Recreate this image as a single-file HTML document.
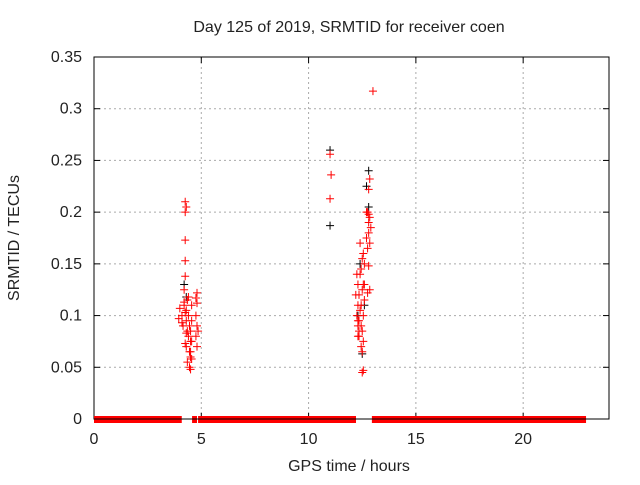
<!DOCTYPE html>
<html><head><meta charset="utf-8"><style>
body{margin:0;background:#fff}
svg text{font-family:"Liberation Sans",sans-serif;font-size:16px;fill:#222}
</style></head><body>
<svg id="c" width="640" height="480"></svg>
<script>
const xTicks=[0,5,10,15,20];
const yTicks=[0,0.05,0.1,0.15,0.2,0.25,0.3,0.35];
const yLabels=["0","0.05","0.1","0.15","0.2","0.25","0.3","0.35"];
const bandStarts=[0,4.57,4.85,12.95];
const bandEnds=[4.09,4.80,12.21,22.93];
const redX=[4.25,4.3,4.25,4.25,4.25,4.25,4.2,4.4,4.35,4.2,4.3,4.4,4.3,4.45,4.35,4.4,4.5,4.3,4.45,4.5,4.35,4.45,4.5,
4.0,3.95,4.1,4.15,4.2,4.25,4.1,4.3,4.25,4.55,4.55,4.5,4.55,4.5,4.55,4.8,4.75,4.8,4.75,4.8,4.85,4.75,4.8,
11.0,11.05,11.0,13.0,
12.85,12.8,12.75,12.85,12.8,12.9,12.8,12.7,12.85,12.75,12.6,12.8,12.6,12.85,12.75,12.7,12.8,
12.4,12.55,12.5,12.45,12.4,12.55,12.5,12.35,12.6,12.45,12.4,12.55,12.3,12.45,12.5,12.35,12.55,12.45,12.5,12.55,12.5,
12.25,12.3,12.2,12.3,12.25,12.35,12.3,12.35,12.3];
const redY=[0.21,0.205,0.2,0.173,0.153,0.138,0.125,0.118,0.115,0.11,0.105,0.1,0.095,0.09,0.085,0.08,0.075,0.07,0.065,0.06,0.055,0.05,0.048,
0.107,0.097,0.1,0.09,0.113,0.103,0.093,0.083,0.073,0.11,0.095,0.085,0.075,0.065,0.058,0.122,0.117,0.112,0.1,0.09,0.085,0.08,0.07,
0.256,0.236,0.213,0.317,
0.232,0.222,0.2,0.195,0.19,0.185,0.18,0.175,0.17,0.165,0.15,0.148,0.13,0.125,0.122,0.2,0.198,
0.17,0.16,0.155,0.145,0.14,0.13,0.125,0.12,0.115,0.11,0.105,0.1,0.095,0.09,0.085,0.08,0.075,0.07,0.065,0.047,0.045,
0.14,0.13,0.12,0.11,0.1,0.095,0.09,0.085,0.08];
const blackX=[11.0,11.0,12.8,12.8,12.7,12.5,12.4,12.6,4.2,4.3,12.3];
const blackY=[0.26,0.187,0.24,0.205,0.225,0.063,0.15,0.11,0.13,0.118,0.1];
const X0=94,X1=609,Y0=419,Y1=57;
const xs=v=>X0+v/24*(X1-X0);
const ys=v=>Y0-v/0.35*(Y0-Y1);
const svg=document.getElementById('c');const NS='http://www.w3.org/2000/svg';
function mk(t,a,p){const e=document.createElementNS(NS,t);for(const k in a)e.setAttribute(k,a[k]);(p||svg).appendChild(e);return e;}
xTicks.forEach((v,i)=>{
 if(v>0){const g=mk('line',{x1:xs(v),x2:xs(v),y1:Y0,y2:Y1,stroke:'#aaa','stroke-dasharray':'2,3'});
 
 }
 const t=mk('text',{x:xs(v),y:Y0+25,'text-anchor':'middle'});t.textContent=v;
 
 
 mk('line',{x1:xs(v),x2:xs(v),y1:Y0,y2:Y0-6,stroke:'#000'});
 mk('line',{x1:xs(v),x2:xs(v),y1:Y1,y2:Y1+6,stroke:'#000'});
});
yTicks.forEach((v,i)=>{
 if(v>0&&v<0.35){const g=mk('line',{x1:X0,x2:X1,y1:ys(v),y2:ys(v),stroke:'#aaa','stroke-dasharray':'2,3'});
 
 }
 const t=mk('text',{x:X0-12,y:ys(v)+5,'text-anchor':'end'});t.textContent=yLabels[i];
 
 
 mk('line',{x1:X0,x2:X0+6,y1:ys(v),y2:ys(v),stroke:'#000'});
 mk('line',{x1:X1,x2:X1-6,y1:ys(v),y2:ys(v),stroke:'#000'});
});
const fr=mk('rect',{x:X0,y:Y1,width:X1-X0,height:Y0-Y1,fill:'none',stroke:'#000'});


bandStarts.forEach((s,i)=>{
 const r=mk('rect',{x:xs(s),y:ys(0)-3,width:xs(bandEnds[i])-xs(s),height:7,fill:'#f00'});
 
 
});
mk('line',{x1:X0,x2:X1,y1:Y0,y2:Y0,stroke:'#000'});
function cross(x,y,c,n){const p=mk('path',{d:`M${x-4},${y}h8M${x},${y-4}v8`,stroke:c,'stroke-width':1});
 
 }
blackX.forEach((v,i)=>cross(xs(v),ys(blackY[i]),'#000','black-point'));
redX.forEach((v,i)=>cross(xs(v),ys(redY[i]),'#f00','red-point'));
const T=mk('text',{x:349,y:32,'text-anchor':'middle'});T.textContent='Day 125 of 2019, SRMTID for receiver coen';


const XL=mk('text',{x:349,y:471,'text-anchor':'middle'});XL.textContent='GPS time / hours';


const YL=mk('text',{x:19,y:238,'text-anchor':'middle',transform:'rotate(-90 19 238)'});YL.textContent='SRMTID / TECUs';


</script>
</body></html>
